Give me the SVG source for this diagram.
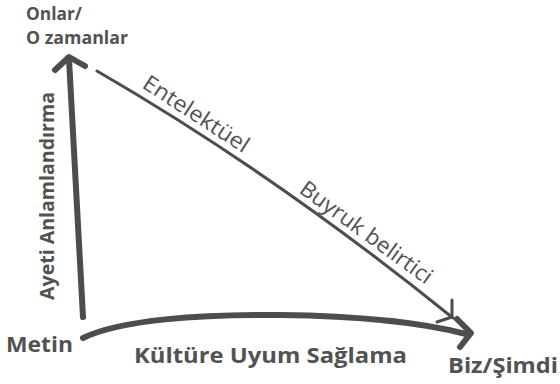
<svg xmlns="http://www.w3.org/2000/svg" width="560" height="384" viewBox="0 0 560 384">
<style>
.b{font-family:"Open Sans","Liberation Sans",sans-serif;font-weight:700;fill:#525252}
.r{font-family:"Open Sans","Liberation Sans",sans-serif;font-weight:400;font-size:22px;fill:#525252}
.thick{fill:none;stroke:#4d4d4d;stroke-width:6;stroke-linecap:round;stroke-linejoin:round}
.thin{fill:none;stroke:#4d4d4d;stroke-width:3;stroke-linecap:round;stroke-linejoin:round}
</style>
<rect width="560" height="384" fill="#fff"/>
<g id="connectors">
<path class="thick" d="M83,317 Q75,180 69,59"/>
<polyline class="thick" points="55,70 69,57 85,66"/>
<path class="thin" d="M97,71 Q275,174 453,318"/>
<polyline class="thin" points="452,300 452,317 437,322"/>
<path class="thick" d="M83,338 C120,320 200,314 280,315 C360,316 420,322 466,334"/>
<polyline class="thick" points="457,319 471,333 460,347"/>
</g>
<g id="node-onlar"><text class="b" x="26" y="20" font-size="18" textLength="56" lengthAdjust="spacingAndGlyphs">Onlar/</text><text class="b" x="26" y="44" font-size="18.5" textLength="102" lengthAdjust="spacingAndGlyphs">O zamanlar</text></g>
<g id="node-metin"><text class="b" x="6" y="352" font-size="21" textLength="67" lengthAdjust="spacingAndGlyphs">Metin</text></g>
<g id="node-biz"><text class="b" x="448" y="373" font-size="21" textLength="110" lengthAdjust="spacingAndGlyphs">Biz/Şimdi</text></g>
<g id="label-kultur"><text class="b" x="134" y="363" font-size="22" textLength="273" lengthAdjust="spacingAndGlyphs">Kültüre Uyum Sağlama</text></g>
<g id="label-ayeti"><text class="b" transform="translate(54,300) rotate(-90)" font-size="20" textLength="208" lengthAdjust="spacingAndGlyphs">Ayeti Anlamlandırma</text></g>
<g id="label-entelektuel"><text class="r" transform="translate(141,87) rotate(33)" textLength="122" lengthAdjust="spacingAndGlyphs">Entelektüel</text></g>
<g id="label-buyruk"><text class="r" transform="translate(298,192) rotate(36)" textLength="158" lengthAdjust="spacingAndGlyphs">Buyruk belirtici</text></g>
</svg>
